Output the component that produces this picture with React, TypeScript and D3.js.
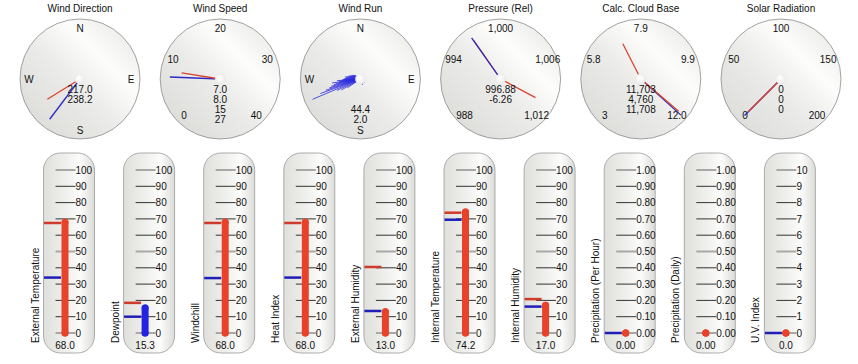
import React from "react";
import * as d3 from "d3";

// ---------- Gauge data ----------
const gaugeTitles = ["Wind Direction", "Wind Speed", "Wind Run", "Pressure (Rel)", "Calc. Cloud Base", "Solar Radiation"];
const gaugeMin = [0, 0, 0, 988, 3, 0];
const gaugeMax = [360, 40, 360, 1012, 12, 200];
const gaugeArc = [360, 270, 360, 270, 270, 270];
const gaugeTickValues = [
  [0, 90, 180, 270],
  [0, 10, 20, 30, 40],
  [0, 90, 180, 270],
  [988, 994, 1000, 1006, 1012],
  [3, 5.25, 7.5, 9.75, 12],
  [0, 50, 100, 150, 200],
];
const gaugeTickLabels = [
  ["N", "E", "S", "W"],
  ["0", "10", "20", "30", "40"],
  ["N", "E", "S", "W"],
  ["988", "994", "1,000", "1,006", "1,012"],
  ["3", "5.8", "7.9", "9.9", "12.0"],
  ["0", "50", "100", "150", "200"],
];
const gaugeTexts = [
  ["217.0", "238.2"],
  ["7.0", "8.0", "15", "27"],
  ["", "", "44.4", "2.0"],
  ["996.88", "-6.26"],
  ["11,703", "4,760", "11,708"],
  ["0", "0", "0"],
];
// needles: gauge index, value, relative length, colour
const needleGauge = [0, 0, 1, 1, 3, 3, 3, 4, 4, 4, 5, 5];
const needleValue = [217.0, 238.2, 7.0, 8.0, 996.9, 996.88, 1010.5, 11.9, 11.85, 6.6, 0, 0];
const needleLen = [0.84, 0.64, 0.84, 0.65, 0.78, 0.84, 0.66, 0.9, 0.83, 0.66, 0.86, 0.77];
const needleColor = ["blue", "red", "blue", "red", "red", "blue", "red", "blue", "red", "red", "blue", "red"];
// wind run history spikes (direction in degrees, relative length)
const windRunDirs = [247, 250, 252, 254, 256, 258, 260, 262, 264, 266, 268, 270, 272, 275, 278, 280, 283, 286, 290, 294, 298, 240, 244, 236, 262, 266, 100, 130, 160, 300, 305];
const windRunLens = [1.0, 0.82, 0.7, 0.62, 0.58, 0.52, 0.48, 0.42, 0.4, 0.36, 0.34, 0.32, 0.3, 0.28, 0.3, 0.26, 0.24, 0.22, 0.2, 0.18, 0.16, 0.42, 0.5, 0.3, 0.55, 0.45, 0.08, 0.1, 0.12, 0.14, 0.12];

// ---------- Thermometer data ----------
const thermoLabels = ["External Temperature", "Dewpoint", "Windchill", "Heat Index", "External Humidity", "Internal Temperature", "Internal Humidity", "Precipitation (Per Hour)", "Precipitation (Daily)", "U.V. Index"];
const thermoValues = [68.0, 15.3, 68.0, 68.0, 13.0, 74.2, 17.0, 0.0, 0.0, 0.0];
const thermoValueText = ["68.0", "15.3", "68.0", "68.0", "13.0", "74.2", "17.0", "0.00", "0.00", "0.0"];
const thermoHigh = [67.5, 18.5, 67.5, 67.5, 40.5, 73.8, 20.8, null, null, null];
const thermoLow = [34, 10, 33.7, 34, 13.5, 69.5, 16.2, 0, null, 0];
const thermoMax = [100, 100, 100, 100, 100, 100, 100, 1, 1, 10];
const thermoMercury = ["red", "blue", "red", "red", "red", "red", "red", "red", "red", "red"];

const COLORS: Record<string, string> = { red: "#e8432a", blue: "#2424e0" };
const FONT = "'Liberation Sans', Arial, Helvetica, sans-serif";
const FS = 10;

const G_CX0 = 80, G_DX = 140.2, G_CY = 79, G_R = 60;
const T_X0 = 43.5, T_DX = 80.1, T_TOP = 153, T_H = 200, T_W = 51;

function Gauge({ i }: { i: number }) {
  const cx = G_CX0 + i * G_DX;
  const sweep = gaugeArc[i];
  const scale = d3.scaleLinear().domain([gaugeMin[i], gaugeMax[i]]).range(sweep === 360 ? [0, 360] : [-135, 135]);
  const pt = (v: number, r: number) => {
    const a = (scale(v) * Math.PI) / 180;
    return [cx + r * Math.sin(a), G_CY - r * Math.cos(a)];
  };
  const needles = needleGauge.map((g, k) => ({ g, k })).filter((n) => n.g === i);
  return (
    <g>
      <text x={cx} y={11.5} textAnchor="middle" fontSize={FS} fill="#111">{gaugeTitles[i]}</text>
      <circle cx={cx} cy={G_CY} r={G_R} fill="url(#dialGrad)" stroke="#8c8c8c" strokeWidth={0.8} />
      {gaugeTickValues[i].map((v, j) => {
        const [x, y] = pt(v, 51);
        return (
          <text key={j} x={x} y={y} dy="0.36em" textAnchor="middle" fontSize={FS} fill="#111">
            {gaugeTickLabels[i][j]}
          </text>
        );
      })}
      {i === 2 &&
        windRunDirs.map((dir, j) => {
          const [x, y] = pt(dir, 52 * windRunLens[j]);
          return <line key={j} x1={cx} y1={G_CY} x2={x} y2={y} stroke="#2a2ae0" strokeWidth={1} strokeOpacity={0.8} />;
        })}
      {needles.map(({ k }) => {
        const [x, y] = pt(needleValue[k], G_R * needleLen[k]);
        return (
          <line key={k} x1={cx} y1={G_CY} x2={x} y2={y} stroke={needleColor[k] === "red" ? "#d8452e" : "#2b2bc4"} strokeWidth={1.3} />
        );
      })}
      <circle cx={cx} cy={G_CY} r={5} fill="url(#hubGrad)" stroke="#e4e4e4" strokeWidth={0.5} />
      {gaugeTexts[i].map((t, j) => (
        <text key={j} x={cx} y={G_CY + 10 + j * 10} dy="0.36em" textAnchor="middle" fontSize={FS} fill="#111">{t}</text>
      ))}
    </g>
  );
}

function Thermo({ i }: { i: number }) {
  const left = T_X0 + i * T_DX;
  const mx = left + 21.5;
  const y = d3.scaleLinear().domain([0, thermoMax[i]]).range([333, 170]);
  const ticks = y.ticks(10);
  const fmt = thermoMax[i] === 1 ? d3.format(".2f") : d3.format("d");
  const col = COLORS[thermoMercury[i]];
  const hi = thermoHigh[i];
  const lo = thermoLow[i];
  return (
    <g>
      <rect x={left} y={T_TOP} width={T_W} height={T_H} rx={17} ry={17} fill="url(#tubeGrad)" stroke="#9a9a9a" strokeWidth={0.8} />
      {ticks.map((t, j) => {
        const major = j % 5 === 0;
        return (
          <g key={j}>
            <line x1={left + 12} x2={left + 32} y1={y(t)} y2={y(t)} stroke={major ? "#a8a8a8" : "#333"} strokeWidth={major ? 2 : 1} />
            <text x={left + 32} y={y(t)} dy="0.36em" fontSize={FS} fill="#111">{fmt(t)}</text>
          </g>
        );
      })}
      {hi !== null && (
        <line x1={left + 0.5} x2={mx - 4} y1={y(hi)} y2={y(hi)} stroke="#cf3a2a" strokeWidth={2.5} />
      )}
      {lo !== null && (
        <line x1={left + 0.5} x2={mx - 4} y1={y(lo)} y2={y(lo)} stroke="#1f1fb8" strokeWidth={2.5} />
      )}
      <line x1={mx} x2={mx} y1={y(0)} y2={y(thermoValues[i])} stroke={col} strokeWidth={7} strokeLinecap="round" />
      <circle cx={mx} cy={y(thermoValues[i])} r={3.5} fill={col} />
      <circle cx={mx} cy={y(0)} r={3.5} fill={col} />
      <text x={mx} y={348.5} textAnchor="middle" fontSize={FS} fill="#111">{thermoValueText[i]}</text>
      <text transform={`translate(${left - 5},343) rotate(-90)`} fontSize={FS} fill="#111">{thermoLabels[i]}</text>
    </g>
  );
}

export default function App() {
  return (
    <div style={{ position: "absolute", left: 0, top: 0, width: 858, height: 364, background: "#fff" }}>
      <svg width={858} height={364} style={{ display: "block", fontFamily: FONT }}>
        <defs>
          <linearGradient id="dialGrad" x1="0" y1="1" x2="1" y2="0">
            <stop offset="0" stopColor="#d8d8d5" />
            <stop offset="0.45" stopColor="#ebebe9" />
            <stop offset="0.68" stopColor="#fdfdfc" />
            <stop offset="0.8" stopColor="#f3f3f1" />
            <stop offset="1" stopColor="#e2e2de" />
          </linearGradient>
          <linearGradient id="tubeGrad" x1="0" y1="0" x2="1" y2="0">
            <stop offset="0" stopColor="#dfdfdb" />
            <stop offset="0.45" stopColor="#f0f0ee" />
            <stop offset="0.72" stopColor="#fcfcfb" />
            <stop offset="1" stopColor="#dbdbd7" />
          </linearGradient>
          <radialGradient id="hubGrad" cx="0.4" cy="0.4" r="0.6">
            <stop offset="0" stopColor="#ffffff" />
            <stop offset="1" stopColor="#ededed" />
          </radialGradient>
        </defs>
        {gaugeTitles.map((_, i) => (
          <Gauge key={i} i={i} />
        ))}
        {thermoLabels.map((_, i) => (
          <Thermo key={i} i={i} />
        ))}
      </svg>
    </div>
  );
}
